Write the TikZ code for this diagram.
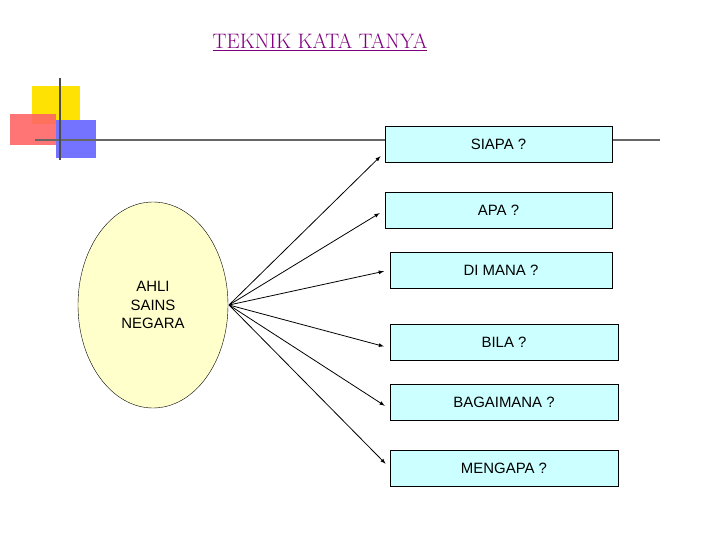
\documentclass[tikz,border=0pt]{standalone}
\usepackage{fontspec}
\setsansfont{Liberation Sans}
\usetikzlibrary{positioning,shapes.geometric}
\definecolor{titlepurple}{RGB}{128,0,128}
\definecolor{boxcyan}{RGB}{204,255,255}
\definecolor{ovalyellow}{RGB}{255,255,204}
\begin{document}
\begin{tikzpicture}[x=1bp,y=-1bp,
    qbox/.style={rectangle, draw=black, fill=boxcyan, minimum height=36bp, font=\sffamily\fontsize{15}{17}\selectfont, inner sep=0pt},
    link/.style={->, >=latex, thick, shorten >=6bp}
]
\useasboundingbox (0,0) rectangle (720,540);

% decoration
\fill[yellow!85!orange] (32,86) rectangle (80,124);
\fill[red!60, opacity=0.9] (10,114) rectangle (56,145);
\fill[blue!55] (56,120) rectangle (96,158);
\draw[gray!80!black, line width=2pt] (35,140) -- (660,140);
\draw[black!70, line width=1.5pt] (60,78) -- (60,160);

% title
\node[font=\rmfamily\fontsize{21}{24}\selectfont, text=titlepurple, inner sep=1pt] (title) at (320,42) {\underline{TEKNIK KATA TANYA}};

% oval
\node[ellipse, draw=black, fill=ovalyellow, minimum width=150bp, minimum height=206bp, align=center,
      font=\sffamily\fontsize{15}{19}\selectfont] (ahli) at (153,305) {AHLI\\SAINS\\NEGARA};
\coordinate (fan) at (229,305);

% questions
\node[qbox, minimum width=227bp] (siapa) at (498.5,144) {SIAPA ?};
\node[qbox, minimum width=227bp] (apa) at (498.5,210) {APA ?};
\node[qbox, minimum width=222bp] (dimana) at (501,270) {DI MANA ?};
\node[qbox, minimum width=228bp] (bila) at (504,342) {BILA ?};
\node[qbox, minimum width=228bp] (bagaimana) at (504,402) {BAGAIMANA ?};
\node[qbox, minimum width=228bp] (mengapa) at (504,468) {MENGAPA ?};

\draw[link] (fan) -- ([yshift=-8bp]siapa.west);
\draw[link] (fan) -- (apa.west);
\draw[link] (fan) -- (dimana.west);
\draw[link] (fan) -- ([yshift=-6bp]bila.west);
\draw[link] (fan) -- ([yshift=-7bp]bagaimana.west);
\draw[link] (fan) -- (mengapa.west);
\end{tikzpicture}
\end{document}
